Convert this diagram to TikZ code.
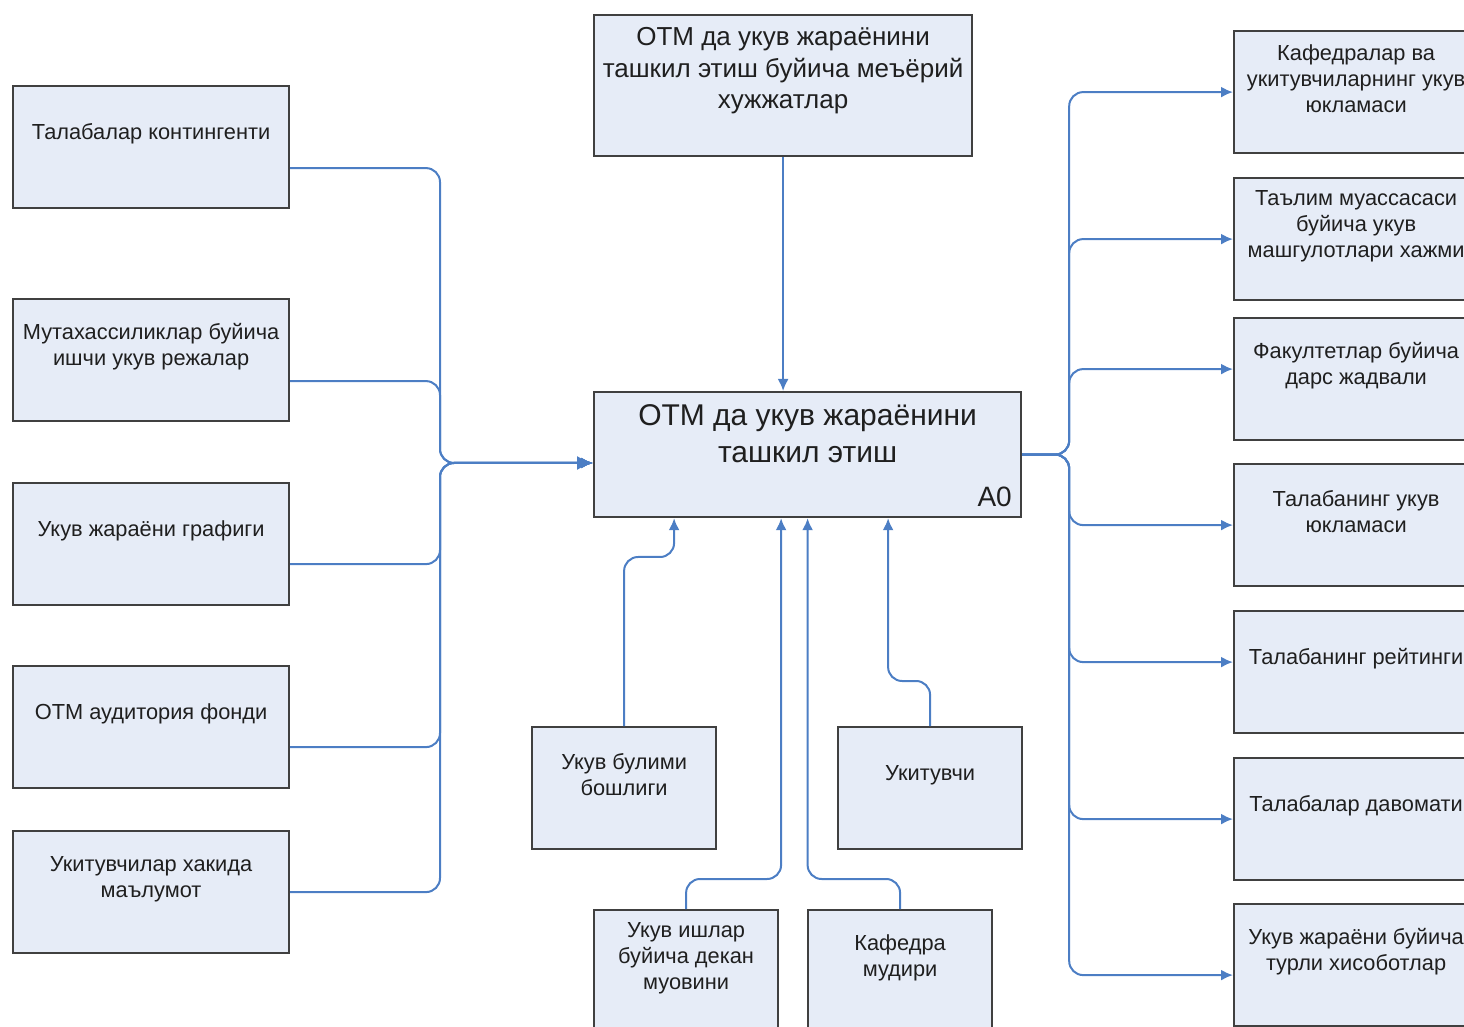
\documentclass[tikz,border=0pt]{standalone}
\usepackage{fontspec}
\setmainfont{Liberation Sans}
\usetikzlibrary{arrows.meta}
\definecolor{boxfill}{RGB}{230,236,247}
\definecolor{boxline}{RGB}{64,64,64}
\definecolor{linkblue}{RGB}{76,126,196}
\tikzset{
  box/.style={draw=boxline, line width=1.1pt, fill=boxfill, anchor=north west, minimum width=#1, minimum height=61pt, inner sep=0pt},
  box/.default=138pt,
  txt/.style={anchor=center, yshift=-24.5pt, align=center, text=black!88, font=\fontsize{10.9pt}{13pt}\selectfont},
  flow/.style={draw=linkblue, line width=1pt, rounded corners=7pt, -{Latex[length=6pt,width=5.5pt]}}
}

\begin{document}
\begin{tikzpicture}[x=0.5pt,y=-0.5pt]
	\useasboundingbox (0,0) rectangle (1464,1027);
	\node[box=189pt, minimum height=70.5pt, label={[txt, yshift=-4pt, font=\fontsize{13pt}{15.7pt}\selectfont]north:ОТМ да укув жараёнини\\ташкил этиш буйича меъёрий\\хужжатлар}] (meyor) at (593,14) {};
	\node[box=213.5pt, minimum height=62.5pt, label={[txt, yshift=3.25pt, font=\fontsize{15pt}{18.5pt}\selectfont]north:ОТМ да укув жараёнини\\ташкил этиш}] (jarayon) at (593,391) {};
	\node[anchor=base east, inner sep=0pt, text=black!88, font=\fontsize{14pt}{16pt}\selectfont] (nomer) at ([shift={(-5pt,5.75pt)}]jarayon.south east) {A0};
	\node[box, label={[txt]north:Талабалар контингенти}] (kont) at (12,85) {};
	\node[box, label={[txt]north:Мутахассиликлар буйича\\ишчи укув режалар}] (rejalar) at (12,298) {};
	\node[box, label={[txt]north:Укув жараёни графиги}] (grafik) at (12,482) {};
	\node[box, label={[txt]north:ОТМ аудитория фонди}] (fond) at (12,665) {};
	\node[box, label={[txt]north:Укитувчилар хакида\\маълумот}] (malumot) at (12,830) {};
	\node[box=92pt, label={[txt]north:Укув булими\\бошлиги}] (bulim) at (531,726) {};
	\node[box=92pt, label={[txt]north:Укитувчи}] (ukit) at (837,726) {};
	\node[box=92pt, label={[txt]north:Укув ишлар\\буйича декан\\муовини}] (dekan) at (593,909) {};
	\node[box=92pt, label={[txt]north:Кафедра\\мудири}] (mudir) at (807,909) {};
	\node[box=122pt, label={[txt]north:Кафедралар ва\\укитувчиларнинг укув\\юкламаси}] (yuklama) at (1233,30) {};
	\node[box=122pt, label={[txt]north:Таълим муассасаси\\буйича укув\\машгулотлари хажми}] (hajm) at (1233,177) {};
	\node[box=122pt, label={[txt]north:Факултетлар буйича\\дарс жадвали}] (jadval) at (1233,317) {};
	\node[box=122pt, label={[txt]north:Талабанинг укув\\юкламаси}] (talyuk) at (1233,463) {};
	\node[box=122pt, label={[txt]north:Талабанинг рейтинги}] (reyting) at (1233,610) {};
	\node[box=122pt, label={[txt]north:Талабалар давомати}] (davomat) at (1233,757) {};
	\node[box=122pt, label={[txt]north:Укув жараёни буйича\\турли хисоботлар}] (hisobot) at (1233,903) {};
	\coordinate (lbus) at (440,463);
	\coordinate (rbus) at ([xshift=23.5pt]jarayon.east);
	\draw[flow] ([yshift=-10.5pt]kont.east) -| (lbus) -- (jarayon.west |- lbus);
	\draw[flow] ([yshift=-10.5pt]rejalar.east) -| (lbus) -- (jarayon.west |- lbus);
	\draw[flow] ([yshift=-10pt]grafik.east) -| (lbus) -- (jarayon.west |- lbus);
	\draw[flow] ([yshift=-10pt]fond.east) -| (lbus) -- (jarayon.west |- lbus);
	\draw[flow, -{Latex[length=8pt,width=7pt]}] (malumot.east) -| (lbus) -- (jarayon.west |- lbus);
	\draw[flow] (meyor.south) -- (meyor.south |- jarayon.north);
	\draw[flow] (bulim.north) -- ++(0,-169) -| ([xshift=-66.75pt]jarayon.south);
	\draw[flow] (ukit.north) -- ++(0,-45) -| ([xshift=40.25pt]jarayon.south);
	\draw[flow] (dekan.north) -- ++(0,-30) -| ([xshift=-13.25pt]jarayon.south);
	\draw[flow] (mudir.north) -- ++(0,-30) -| (jarayon.south);
	\draw[flow] (jarayon.east) -- (rbus) |- (yuklama.west);
	\draw[flow] (jarayon.east) -- (rbus) |- (hajm.west);
	\draw[flow] (jarayon.east) -- (rbus) |- ([yshift=5pt]jadval.west);
	\draw[flow] (jarayon.east) -- (rbus) |- (talyuk.west);
	\draw[flow] (jarayon.east) -- (rbus) |- ([yshift=5pt]reyting.west);
	\draw[flow] (jarayon.east) -- (rbus) |- (davomat.west);
	\draw[flow] (jarayon.east) -- (rbus) |- ([yshift=-5pt]hisobot.west);
\end{tikzpicture}
\end{document}
